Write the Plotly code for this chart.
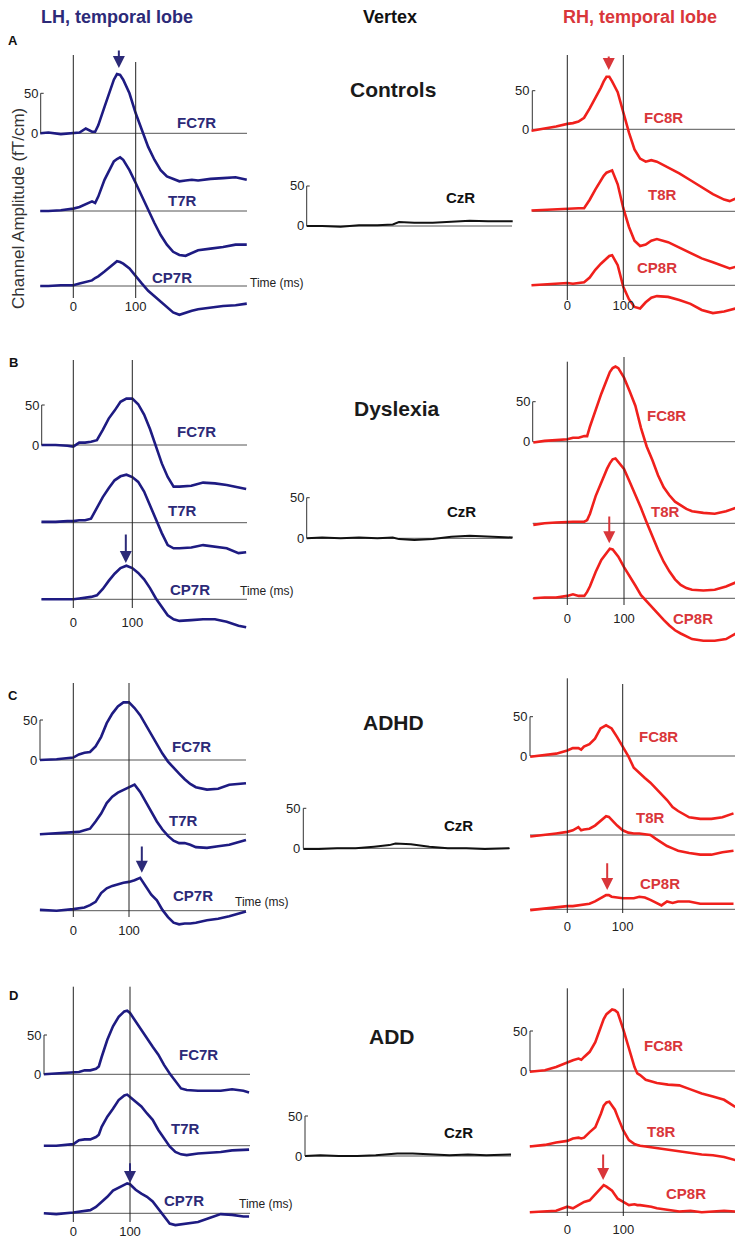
import plotly.graph_objects as go

W, H = 743, 1241          # browser window
OFF = 8                   # page offset of the plot div
FW, FH = W - OFF, H - OFF # figure size
FONT = "Arial, 'Liberation Sans', Helvetica, sans-serif"

# ---------------- data (time in ms, amplitude in fT/cm) ----------------
TICK_VALS = [0, 100]
TICK_TEXT = ["0", "100"]
SCALE_BAR = [0, 50]
SCALE_TEXT = ["0", "50"]

LH_NAMES = ["FC7R", "T7R", "CP7R"]
RH_NAMES = ["FC8R", "T8R", "CP8R"]
VX_NAMES = ["CzR"]
GROUPS = ["Controls", "Dyslexia", "ADHD", "ADD"]
PANELS = ["A", "B", "C", "D"]
HEADERS = ["LH, temporal lobe", "Vertex", "RH, temporal lobe"]
Y_TITLE = "Channel Amplitude (fT/cm)"
X_TITLE = "Time (ms)"

# vertex time grid (shared)
t_VX = [-55, -30, 0, 30, 60, 85, 95, 120, 150, 180, 210, 240, 280]
A_CzR = [0, 0, -1, 1, 1, 2, 5, 4, 4, 5, 6.5, 6, 6]
B_CzR = [0, 1, 0, 1, 0, 1, -1, -2, -1, 2, 3, 2, 1]
C_CzR = [-1, -1, 0, 0, 2, 4, 6, 5, 2, 0, 0, -1, 0]
D_CzR = [0, 1, 0, 0, 1, 2, 3, 3, 2, 1, 2, 1, 2]

# Panel A - Controls
t_A_LH = [-53, -40, -20, 0, 10, 20, 30, 35, 40, 50, 60, 65, 70, 75, 80, 90, 100, 110, 120, 130,
          140, 150, 160, 170, 180, 190, 200, 220, 240, 260, 278]
A_FC7R = [0, 1, -1, 0, 1, 6, 2, 2, 10, 33, 54, 67, 74, 73, 67, 50, 25, 4, -17, -33,
          -46, -54, -57, -60, -59, -58, -59, -57, -56, -55, -58]
A_T7R = [0, 0, 1, 3, 5, 9, 12, 10, 18, 39, 55, 62, 65, 67, 64, 51, 35, 18, 1, -15,
         -30, -42, -51, -55, -56, -52, -49, -47, -45, -42, -42]
A_CP7R = [0, 0, 1, 1, 3, 5, 7, 10, 12, 18, 24, 28, 31, 30, 28, 22, 12, 3, -6, -13,
          -20, -27, -33, -36, -33, -31, -29, -27, -25, -24, -22]
t_A_RH = [-64, -40, -20, 0, 10, 20, 30, 40, 50, 60, 65, 70, 75, 80, 90, 100, 110, 120, 130, 140,
          150, 160, 180, 200, 220, 240, 260, 280, 290, 300]
A_FC8R = [-2, 1, 3.5, 7, 8, 10, 15, 27, 40, 54, 62, 68, 68, 62, 48, 21, -4, -26, -38, -42,
          -40, -42, -49, -57, -66, -75, -84, -91, -93, -90]
A_T8R = [1, 2, 3, 4, 4, 4, 4, 15, 28, 40, 46, 50, 52, 53, 35, 4, -20, -38, -45, -43,
         -38, -36, -40, -47, -55, -61, -66, -71, -74, -72]
A_CP8R = [0, 1, 2, 3, 2, 3, 4, 10, 20, 28, 31, 35, 38, 39, 26, -2, -18, -28, -30, -22,
          -16, -14, -15, -19, -24, -32, -36, -34, -32, -30]

# Panel B - Dyslexia
t_B_LH = [-54, -30, -10, 0, 10, 20, 30, 40, 50, 60, 70, 80, 90, 100, 110, 120, 130, 140, 150, 160,
          170, 180, 200, 220, 240, 260, 280, 293]
B_FC7R = [0, 0, -1, -2, 3, 3, 4, 6, 19, 33, 43, 54, 58, 58, 51, 38, 20, -2, -23, -40,
          -52, -52, -51, -47, -48, -50, -53, -55]
B_T7R = [1, 1, 2, 2, 3, 3, 5, 18, 32, 43, 53, 58, 60, 57, 51, 39, 22, 3, -13, -28,
         -32, -32, -31, -28, -30, -32, -38, -37]
B_CP7R = [0, 0, 0, 0, 1, 2, 3, 5, 13, 23, 32, 39, 42, 39, 33, 25, 14, 1, -10, -20,
          -25, -27, -26, -25, -25, -28, -33, -35]
t_B_RH = [-60, -40, -20, 0, 10, 20, 30, 35, 40, 50, 60, 70, 75, 80, 85, 90, 100, 110, 120, 130,
          140, 150, 160, 170, 180, 190, 200, 210, 220, 240, 260, 280, 300]
B_FC8R = [-1, 1, 2, 3, 5, 5, 7, 7, 19, 40, 60, 78, 87, 92, 94, 92, 80, 63, 45, 17,
          -6, -23, -42, -57, -67, -75, -80, -84, -87, -89, -90, -87, -82]
B_T8R = [-2, 0, 1, 2, 2, 2, 2, 4, 12, 34, 52, 68, 75, 80, 81, 77, 68, 52, 36, 19,
         1, -17, -33, -48, -60, -70, -77, -81, -83, -84, -83, -79, -73]
B_CP8R = [0, 1, 1, 3, 5, 3, 3, 8, 15, 33, 48, 58, 62, 61, 57, 52, 39, 28, 16, 4,
          -4, -12, -20, -27, -34, -40, -44, -48, -51, -53, -53, -51, -43]

# Panel C - ADHD
t_C_LH = [-60, -30, 0, 10, 20, 30, 40, 50, 60, 70, 80, 90, 100, 110, 120, 130, 140, 150, 160, 170,
          180, 190, 200, 210, 220, 240, 260, 280, 310]
C_FC7R = [0, 1, 3, 7, 9, 10, 17, 29, 46, 58, 67, 72, 72, 65, 56, 44, 32, 20, 8, -2,
          -10, -17, -24, -30, -34, -37, -36, -31, -29]
C_T7R = [0, 1, 2, 3, 5, 7, 16, 26, 39, 47, 52, 55, 58, 62, 53, 41, 29, 16, 6, -2,
         -8, -11, -11, -13, -16, -17, -15, -13, -7]
C_CP7R = [1, 0, 2, 3, 4, 7, 11, 22, 28, 31, 33, 35, 36, 38, 41, 30, 20, 13, 1, -8,
          -15, -17, -16, -16, -15, -12, -10, -7, -1]
t_C_RH = [-67, -40, -20, 0, 10, 20, 25, 30, 40, 50, 55, 60, 70, 75, 80, 90, 100, 110, 120, 130,
          140, 150, 160, 170, 180, 190, 200, 220, 240, 260, 280, 300]
C_FC8R = [-1, 1, 3, 7, 10, 10, 8, 12, 15, 22, 28, 35, 39, 37, 35, 24, 12, 0, -15, -22,
          -28, -34, -41, -49, -56, -65, -70, -78, -80, -80, -78, -73]
C_T8R = [-2, 0, 2, 4, 6, 10, 6, 7, 8, 12, 15, 19, 24, 23, 19, 12, 6, 3, 2, 2,
         1, 0, -5, -10, -14, -17, -20, -23, -25, -25, -22, -20]
C_CP8R = [-1, 1, 3, 4, 4, 5, 5, 6, 7, 10, 12, 14, 18, 18, 16, 15, 14, 14, 14, 16,
          15, 12, 8, 5, 10, 8, 10, 10, 7, 7, 7, 7]

# Panel D - ADD
t_D_LH = [-52, -30, 0, 10, 20, 30, 40, 45, 50, 60, 70, 80, 90, 95, 100, 110, 120, 130, 140, 150,
          160, 170, 180, 190, 200, 220, 240, 260, 280, 300, 310]
D_FC7R = [0, 1, 2, 3, 5, 5, 7, 10, 22, 44, 61, 73, 80, 81, 78, 67, 56, 46, 35, 25,
          12, 1, -9, -18, -20, -21, -21, -21, -19, -21, -23]
D_T7R = [0, 0, 2, 7, 8, 8, 11, 14, 24, 37, 47, 58, 64, 65, 62, 56, 50, 41, 33, 20,
         9, -1, -8, -11, -12, -10, -9, -8, -6, -5, -5]
D_CP7R = [0, -1, 1, 2, 3, 4, 8, 11, 15, 21, 29, 33, 36, 38, 37, 30, 25, 21, 15, 6,
          -4, -13, -15, -14, -13, -11, -6, -1, -2, -4, -4]
t_D_RH = [-67, -40, -20, 0, 10, 20, 25, 30, 40, 50, 60, 65, 70, 75, 80, 85, 90, 100, 110, 120,
          125, 130, 140, 150, 160, 180, 200, 220, 240, 260, 280, 300]
D_FC8R = [-1, 1, 5, 11, 13.5, 15.5, 14, 17.6, 24, 36, 55, 65, 71, 74, 77, 76, 73, 52, 28, 5,
          -3, -5, -11, -13, -15, -17, -18, -23, -28, -32, -36, -45]
D_T8R = [-1, 1, 4, 6, 9, 10, 9, 10, 17, 23, 40, 50, 54, 55, 50, 45, 36, 19, 7, 2,
         1, 0, -1, -2, -3, -5, -7, -9, -11, -12, -14, -18]
D_CP8R = [0, 1, 2, 7, 5, 9, 11, 13, 15, 23, 31, 34, 32, 30, 27, 22, 17, 13, 9, 10,
          9, 9, 8, 7, 5, 3, 1, 2, 0, 1, 2, 1]

# latency of the marked peak (ms)
ARROW_T = {"A": {"LH": 73, "RH": 74}, "B": {"LH": 89, "RH": 74},
           "C": {"LH": 123, "RH": 72}, "D": {"LH": 100, "RH": 64}}

SERIES = {
    "A": {"LH": (t_A_LH, [A_FC7R, A_T7R, A_CP7R]), "VX": (t_VX, [A_CzR]), "RH": (t_A_RH, [A_FC8R, A_T8R, A_CP8R])},
    "B": {"LH": (t_B_LH, [B_FC7R, B_T7R, B_CP7R]), "VX": (t_VX, [B_CzR]), "RH": (t_B_RH, [B_FC8R, B_T8R, B_CP8R])},
    "C": {"LH": (t_C_LH, [C_FC7R, C_T7R, C_CP7R]), "VX": (t_VX, [C_CzR]), "RH": (t_C_RH, [C_FC8R, C_T8R, C_CP8R])},
    "D": {"LH": (t_D_LH, [D_FC7R, D_T7R, D_CP7R]), "VX": (t_VX, [D_CzR]), "RH": (t_D_RH, [D_FC8R, D_T8R, D_CP8R])},
}

# ---------------- layout geometry (page pixels) ----------------
GEO = {
    "A": {
        "LH": dict(x0=73.3, x100=135.7, base=[133.3, 211, 286], y50=93.3, sb=40.7, right=247,
                   vtop=[55, 62], vbot=298, tick_y=307,
                   labs=[(197, 122), (182, 200), (172, 277)], arrow=(68, 49), time=(248, 283)),
        "VX": dict(sb=306.7, base=[226], y50=186, right=512, labs=[(460, 197)], group=(393, 89)),
        "RH": dict(x0=567.3, x100=623.3, base=[129.3, 211.3, 285.3], y50=90.7, sb=532.3, right=738,
                   vtop=[55, 55], vbot=300, tick_y=306,
                   labs=[(663, 117), (662, 195), (657, 267)], arrow=(70, 55)),
    },
    "B": {
        "LH": dict(x0=73.3, x100=132.3, base=[445, 522.7, 599.3], y50=405, sb=41.7, right=247,
                   vtop=[360, 360], vbot=608, tick_y=623,
                   labs=[(197, 431.7), (182, 510), (190, 589)], arrow=(563, 533), time=(238, 591)),
        "VX": dict(sb=306.7, base=[538.3], y50=497.7, right=512, labs=[(461.7, 511.7)], group=(396.7, 408.3)),
        "RH": dict(x0=567.3, x100=624, base=[441.7, 523.3, 598.3], y50=401.7, sb=532.7, right=740,
                   vtop=[361.7, 357], vbot=605, tick_y=619.3,
                   labs=[(666.7, 415), (665, 511.7), (693.3, 618.3)], arrow=(543.3, 515)),
    },
    "C": {
        "LH": dict(x0=73.3, x100=129, base=[760, 834.3, 910.7], y50=720, sb=40, right=246,
                   vtop=[683, 683], vbot=917, tick_y=930.7,
                   labs=[(191.7, 746.7), (183, 820.7), (193, 895)], arrow=(872.7, 845), time=(233, 901.7)),
        "VX": dict(sb=303.3, base=[848.3], y50=808.3, right=510, labs=[(458, 825)], group=(393.3, 722.7)),
        "RH": dict(x0=567.3, x100=622.7, base=[756, 835, 909.3], y50=716.7, sb=530, right=738,
                   vtop=[678.3, 684], vbot=913, tick_y=926.7,
                   labs=[(658.3, 736.7), (650, 817.3), (660, 883.3)], arrow=(890, 861.7)),
    },
    "D": {
        "LH": dict(x0=73.3, x100=130, base=[1074.3, 1145.7, 1213.3], y50=1035, sb=44, right=250,
                   vtop=[986.7, 986.7], vbot=1222, tick_y=1232,
                   labs=[(198.3, 1054), (185, 1128), (184.3, 1200)], arrow=(1183, 1161.7), time=(237, 1204)),
        "VX": dict(sb=305, base=[1156], y50=1116, right=511, labs=[(458, 1132)], group=(391.7, 1036.7)),
        "RH": dict(x0=567.3, x100=623.3, base=[1071, 1145.7, 1212.3], y50=1031, sb=530, right=738,
                   vtop=[988.3, 988.3], vbot=1216, tick_y=1230,
                   labs=[(663.3, 1045.7), (661.7, 1131), (686, 1193.3)], arrow=(1180, 1153)),
    },
}
LETTER_POS = {"A": (13, 41), "B": (13, 362), "C": (13, 695), "D": (13, 995)}
HEADER_POS = [(117, 17), (390, 17), (640, 17)]
Y_TITLE_POS = (18, 209)

STYLE = {
    "LH": dict(line="#1e1b82", text="#2c2a78", arrow="#2c2a78", width=2.6),
    "VX": dict(line="#111111", text="#111111", arrow="#111111", width=2.0),
    "RH": dict(line="#f0201c", text="#d9363a", arrow="#d9363a", width=2.6),
}
HEADER_COLORS = ["#2c2a78", "#111111", "#d9363a"]
AXIS_COLOR = "#333333"


def fx(px):
    return (px - OFF) / FW


def fy(py):
    return 1 - (py - OFF) / FH


def clamp(v):
    return max(0.0, min(1.0, v))


fig = go.Figure()
layout = {}
shapes = []
annotations = []

idx = 0
for p, group in zip(PANELS, GROUPS):
    for col in ["LH", "VX", "RH"]:
        idx += 1
        g = GEO[p][col]
        st = STYLE[col]
        xa = "x" if idx == 1 else f"x{idx}"
        ya = "y" if idx == 1 else f"y{idx}"
        xkey = "xaxis" if idx == 1 else f"xaxis{idx}"
        ykey = "yaxis" if idx == 1 else f"yaxis{idx}"

        sb = g["sb"]
        base = g["base"]
        ppu = (base[0] - g["y50"]) / 50.0
        if col == "VX":
            ppm = 206.0 / 335.0
            x0 = sb + 55 * ppm
            top = g["y50"] - 15
            bottom = base[-1] + 20
        else:
            ppm = (g["x100"] - g["x0"]) / 100.0
            x0 = g["x0"]
            top = min(g["vtop"]) - 40
            bottom = min(base[-1] + 50, H)
        left = sb - 3
        right = min(g["right"] + 5, W)

        xr = [(left - x0) / ppm, (right - x0) / ppm]
        yr = [(base[0] - bottom) / ppu, (base[0] - top) / ppu]

        xdom = [clamp(fx(left)), clamp(fx(right))]
        if col == "VX":
            layout[xkey] = dict(domain=xdom, range=xr, visible=False, anchor=ya)
        else:
            layout[xkey] = dict(domain=xdom, range=xr, anchor="free",
                                position=clamp(fy(g["tick_y"] - 10)),
                                tickmode="array", tickvals=TICK_VALS, ticktext=TICK_TEXT,
                                ticks="", showline=False, showgrid=False, zeroline=False,
                                tickfont=dict(size=13, color="#222222", family=FONT))
        layout[ykey] = dict(domain=[clamp(fy(bottom)), clamp(fy(top))], range=yr,
                            visible=False, anchor=xa)

        t, series = SERIES[p][col]
        names = {"LH": LH_NAMES, "VX": VX_NAMES, "RH": RH_NAMES}[col]
        for k, vals in enumerate(series):
            assert len(vals) == len(t), (p, col, k, len(vals), len(t))
            shift = (base[k] - base[0]) / ppu
            fig.add_trace(go.Scatter(
                x=t, y=[v - shift for v in vals], mode="lines",
                line=dict(color=st["line"], width=st["width"]),
                xaxis=xa, yaxis=ya, showlegend=False, hoverinfo="skip", name=names[k]))
            # baseline
            shapes.append(dict(type="line", xref="paper", yref=ya, x0=fx(sb), x1=fx(g["right"]),
                               y0=-shift, y1=-shift, line=dict(color="#555555", width=1), layer="below"))
            lx, ly = g["labs"][k]
            annotations.append(dict(text=f"<b>{names[k]}</b>", xref="paper", yref="paper",
                                    x=fx(lx), y=fy(ly), xanchor="center", yanchor="middle",
                                    showarrow=False, font=dict(size=15, color=st["text"], family=FONT)))

        # scale bar
        shapes.append(dict(type="line", xref="paper", yref=ya, x0=fx(sb), x1=fx(sb),
                           y0=SCALE_BAR[0], y1=SCALE_BAR[1], line=dict(color=AXIS_COLOR, width=1)))
        shapes.append(dict(type="line", xref="paper", yref=ya, x0=fx(sb), x1=fx(sb + 3),
                           y0=SCALE_BAR[1], y1=SCALE_BAR[1], line=dict(color=AXIS_COLOR, width=1)))
        for val, txt in zip(SCALE_BAR, SCALE_TEXT):
            annotations.append(dict(text=txt, xref="paper", yref=ya, x=fx(sb - 1), y=val,
                                    xanchor="right", yanchor="middle", showarrow=False,
                                    font=dict(size=13, color="#222222", family=FONT)))

        if col == "VX":
            gx, gy = g["group"]
            annotations.append(dict(text=f"<b>{group}</b>", xref="paper", yref="paper",
                                    x=fx(gx), y=fy(gy), xanchor="center", yanchor="middle",
                                    showarrow=False, font=dict(size=21, color="#1a1a1a", family=FONT)))
        else:
            # stimulus-onset and 100 ms reference lines
            for tv, vt in zip(TICK_VALS, g["vtop"]):
                shapes.append(dict(type="line", xref=xa, yref="paper", x0=tv, x1=tv,
                                   y0=fy(g["vbot"]), y1=fy(vt), line=dict(color="#222222", width=1)))
            tip, tail = g["arrow"]
            annotations.append(dict(text="", xref=xa, yref="paper", x=ARROW_T[p][col], y=fy(tip),
                                    ax=0, ay=-(tip - tail), axref="pixel", ayref="pixel",
                                    showarrow=True, arrowhead=2, arrowsize=1.2, arrowwidth=2,
                                    arrowcolor=st["arrow"], standoff=0))
            if "time" in g:
                tx, ty = g["time"]
                annotations.append(dict(text=X_TITLE, xref="paper", yref="paper", x=fx(tx), y=fy(ty),
                                        xanchor="left", yanchor="middle", showarrow=False,
                                        font=dict(size=12, color="#222222", family=FONT)))

    lx, ly = LETTER_POS[p]
    annotations.append(dict(text=f"<b>{p}</b>", xref="paper", yref="paper", x=fx(lx), y=fy(ly),
                            xanchor="center", yanchor="middle", showarrow=False,
                            font=dict(size=13, color="#111111", family=FONT)))

for txt, (hx, hy), colr in zip(HEADERS, HEADER_POS, HEADER_COLORS):
    annotations.append(dict(text=f"<b>{txt}</b>", xref="paper", yref="paper", x=fx(hx), y=fy(hy),
                            xanchor="center", yanchor="middle", showarrow=False,
                            font=dict(size=18, color=colr, family=FONT)))

annotations.append(dict(text=Y_TITLE, xref="paper", yref="paper", x=fx(Y_TITLE_POS[0]),
                        y=fy(Y_TITLE_POS[1]), xanchor="center", yanchor="middle", textangle=-90,
                        showarrow=False, font=dict(size=17, color="#333333", family=FONT)))

fig.update_layout(width=FW, height=FH, autosize=False, margin=dict(l=0, r=0, t=0, b=0),
                  paper_bgcolor="white", plot_bgcolor="rgba(0,0,0,0)", showlegend=False,
                  shapes=shapes, annotations=annotations, **layout)

fig.write_html("out.html")
